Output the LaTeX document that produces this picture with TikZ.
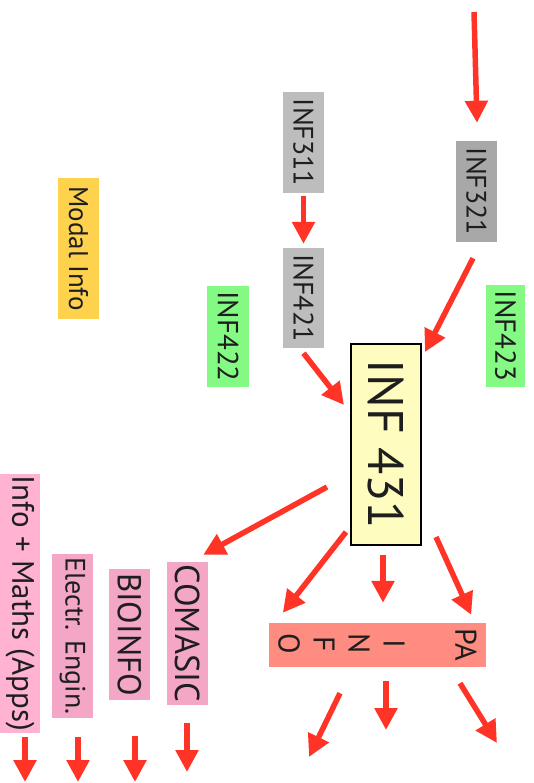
\documentclass[tikz,border=0pt]{standalone}
\usepackage{fontspec}
\usepackage{graphicx}
\setmainfont{PT Sans}
\usetikzlibrary{arrows.meta,calc}

\definecolor{arrowred}{HTML}{FF3326}
\definecolor{ink}{HTML}{1E1E1E}
\definecolor{grayA}{HTML}{BDBDBD}
\definecolor{grayB}{HTML}{A8A8A8}
\definecolor{greenbox}{HTML}{84FA84}
\definecolor{goldbox}{HTML}{FFD24E}
\definecolor{creambox}{HTML}{FFFCC0}
\definecolor{salmonbox}{HTML}{FF8C80}
\definecolor{pinkbox}{HTML}{F4A6C6}
\definecolor{pinklight}{HTML}{FFB2D2}

\newcommand{\vtext}[1]{\rotatebox{-90}{#1}}
\newcommand{\fsz}[1]{\fontsize{#1}{#1}\selectfont}

\tikzset{
  course/.style={inner sep=0pt, text=ink, font=\fsz{28}},
  track/.style={inner sep=0pt, text=ink, fill=pinkbox, font=\fsz{32}},
  arr/.style={draw=arrowred, line width=5.5pt, -{Triangle[length=22pt,width=22pt]}},
  letter/.style={inner sep=0pt, text=ink, font=\fsz{30}}
}

\begin{document}
\begin{tikzpicture}[x=1pt,y=-1pt]
\useasboundingbox (0,0) rectangle (533,783);

% prerequisite courses
\node[course, fill=grayA, minimum width=41pt, minimum height=101pt] (inf311) at (303.5,142.5) {\vtext{INF311}};
\node[course, fill=grayA, minimum width=41pt, minimum height=100pt] (inf421) at (303.5,298) {\vtext{INF421}};
\node[course, fill=grayB, minimum width=41pt, minimum height=101pt] (inf321) at (476.5,191.5) {\vtext{INF321}};
\node[course, fill=greenbox, minimum width=42pt, minimum height=101pt, font=\fsz{29}] (inf422) at (228,336.5) {\vtext{INF422}};
\node[course, fill=greenbox, minimum width=39pt, minimum height=102pt, font=\fsz{29}] (inf423) at (505.5,336) {\vtext{INF423}};
\node[course, fill=goldbox, minimum width=41pt, minimum height=141pt, font=\fsz{27}] (modal) at (78.5,248.5) {\vtext{Modal Info}};

% central course
\node[draw=black, line width=2pt, fill=creambox, inner sep=0pt, text=ink,
      minimum width=70pt, minimum height=201pt, font=\fsz{50}] (inf431) at (386,444.5) {\vtext{INF 431}};

% follow-up programme box
\node[fill=salmonbox, minimum width=217pt, minimum height=44pt, inner sep=0pt] (salmon) at (377.5,645) {};
\node[letter] (lpa) at (466,645) {\vtext{PA}};
\node[letter] (li) at (394,644) {\vtext{I}};
\node[letter] (ln) at (359,644) {\vtext{N}};
\node[letter] (lf) at (324,644) {\vtext{F}};
\node[letter] (lo) at (289,644) {\vtext{O}};

% tracks
\node[track, fill=pinklight, minimum width=40pt, minimum height=259pt, font=\fsz{31}] (maths) at (20,603.5) {\vtext{Info + Maths (Apps)}};
\node[track, minimum width=41pt, minimum height=164pt, font=\fsz{28}] (electr) at (72.5,636) {\vtext{Electr. Engin.}};
\node[track, minimum width=41pt, minimum height=131pt, font=\fsz{33}] (bioinfo) at (129.5,634.5) {\vtext{BIOINFO}};
\node[track, minimum width=41pt, minimum height=143pt, font=\fsz{34.5}] (comasic) at (187.5,633.5) {\vtext{COMASIC}};

% free arrow ends
\coordinate (topin) at (474,12);
\coordinate (o1) at (309,757);
\coordinate (o2) at (386,730);
\coordinate (o3) at (497,743);
\coordinate (t1) at (25,782);
\coordinate (t2) at (78,782);
\coordinate (t3) at (135,782);
\coordinate (t4) at (187,772);

% arrows into INF 431
\draw[arr] (topin) -- ($(inf321.north)+(0.5,-18)$);
\draw[arr, shorten <=3pt, shorten >=4pt] (inf311.south) -- (inf421.north);
\draw[arr] ($(inf421.south)+(0,5)$) -- ($(inf431.west)+(-6,-39.5)$);
\draw[arr] ($(inf321.south)+(-3.5,16)$) -- ($(inf431.north east)+(3,9)$);

% arrows out of INF 431
\draw[arr] ($(inf431.west)+(-23,42.5)$) -- ($(comasic.north east)+(-5,-7)$);
\draw[arr] ($(inf431.south west)+(-4,-14)$) -- ($(salmon.north west)+(14,-10)$);
\draw[arr] ($(inf431.south)+(-3,9)$) -- ($(salmon.north)+(5.5,-20)$);
\draw[arr] ($(inf431.south east)+(14,-9)$) -- ($(salmon.north east)+(-15,-8)$);

% arrows below the programme box
\draw[arr] ($(salmon.south)+(-37.5,26)$) -- (o1);
\draw[arr] ($(salmon.south)+(8.5,14)$) -- (o2);
\draw[arr] ($(salmon.south)+(82.5,16)$) -- (o3);

% arrows below the tracks
\draw[arr] ($(maths.south)+(5,4)$) -- (t1);
\draw[arr] ($(electr.south)+(5.5,19)$) -- (t2);
\draw[arr] ($(bioinfo.south)+(5.5,36)$) -- (t3);
\draw[arr] ($(comasic.south)+(-0.5,18)$) -- (t4);
\end{tikzpicture}
\end{document}
